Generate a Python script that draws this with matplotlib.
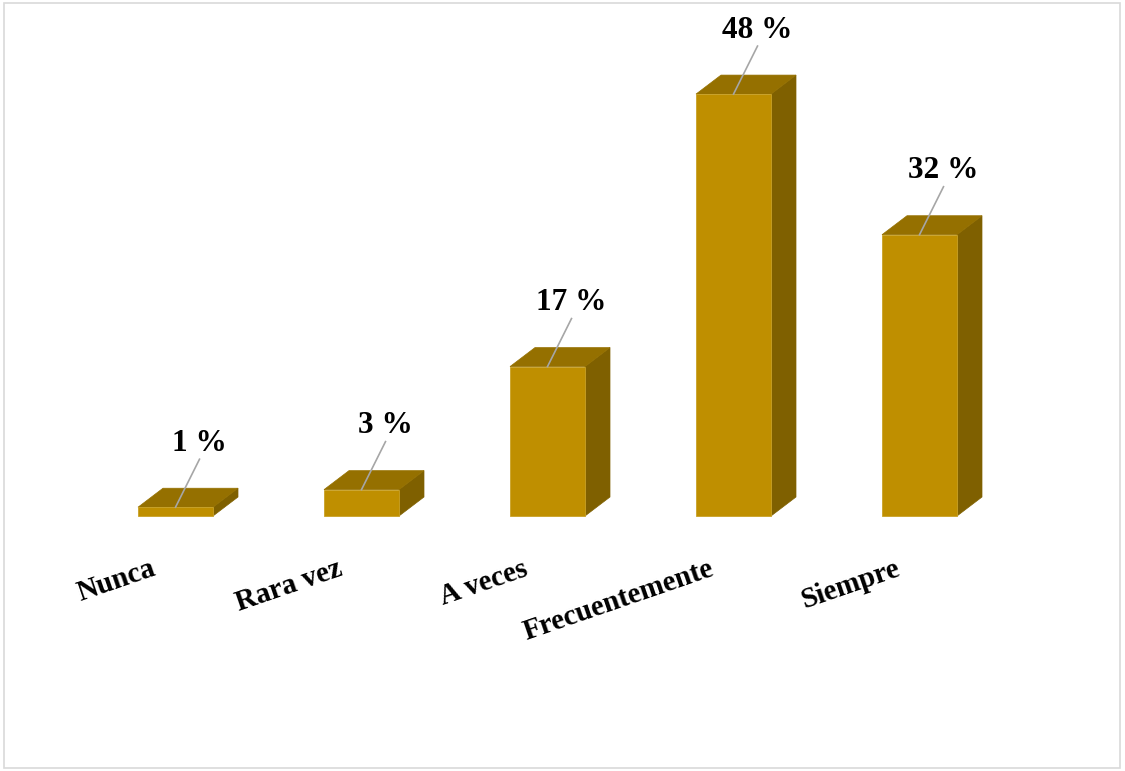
import matplotlib
matplotlib.use("Agg")
import matplotlib.pyplot as plt
from matplotlib.patches import Polygon, Rectangle

categories = ["Nunca", "Rara vez", "A veces", "Frecuentemente", "Siempre"]
values = [1, 3, 17, 48, 32]
labels = ["1 %", "3 %", "17 %", "48 %", "32 %"]

FRONT, TOP, SIDE = "#BF8F00", "#957000", "#7F6000"
FONT = "Liberation Serif"

fig = plt.figure(figsize=(11.25, 7.71), dpi=100)
ax = fig.add_axes([0, 0, 1, 1])
# pixel geometry: bar pitch 186 px, first centre at 175.5 px, baseline 516 px, 8.79 px per %
px_x, px_y = 186.0, 8.79
ax.set_xlim(-175.5 / px_x, (1125 - 175.5) / px_x)
ax.set_ylim((516 - 771) / px_y, 516 / px_y)
ax.axis("off")

w = 75 / px_x
dx, dy = 25 / px_x, 19 / px_y

for i, (v, lab) in enumerate(zip(values, labels)):
    l, r = i - w / 2, i + w / 2
    ax.add_patch(Polygon([(r, 0), (r + dx, dy), (r + dx, v + dy), (r, v)],
                         closed=True, fc=SIDE, ec=SIDE, lw=0.5))
    ax.add_patch(Polygon([(l, v), (r, v), (r + dx, v + dy), (l + dx, v + dy)],
                         closed=True, fc=TOP, ec=TOP, lw=0.5))
    ax.add_patch(Rectangle((l, 0), w, v, fc=FRONT, ec="#C9A227", lw=0.6))
    # leader line + value label
    lx, ly = i + 24 / px_x, v + 48 / px_y
    ax.plot([i, lx], [v, ly], color="#A6A6A6", lw=1.2)
    ax.text(lx, v + 64 / px_y, lab, ha="center", va="center",
            fontsize=22.5, fontweight="bold", family=FONT)

for i, c in enumerate(categories):
    ax.text(i - 18 / px_x, -59 / px_y, c, ha="right", va="baseline",
            rotation=19, rotation_mode="anchor",
            fontsize=21, fontweight="bold", family=FONT)

fig.add_artist(Rectangle((4 / 1125, 3 / 771), 1116 / 1125, 765 / 771,
                         transform=fig.transFigure, fill=False,
                         ec="#D9D9D9", lw=1.2))

fig.savefig("out.png", dpi=100)
